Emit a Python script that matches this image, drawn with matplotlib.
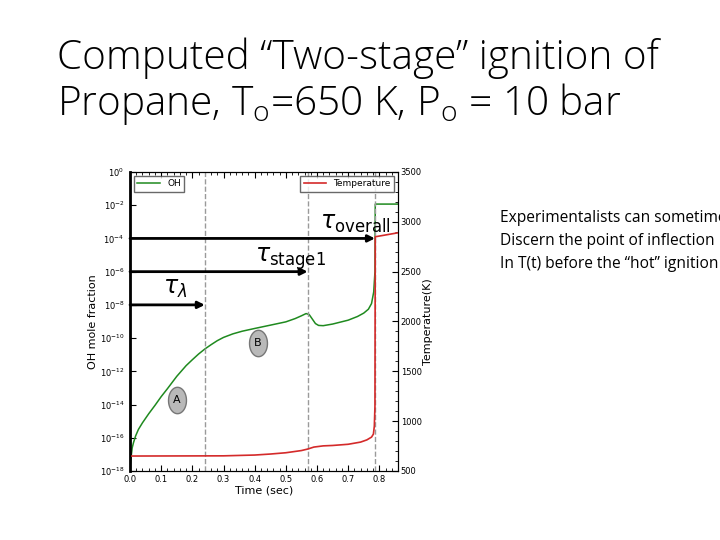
import numpy as np
import matplotlib
matplotlib.use("Agg")
import matplotlib.pyplot as plt
from matplotlib.path import Path

# OH mole fraction vs time
t_oh = [0.0, 0.003, 0.007, 0.011, 0.018, 0.027, 0.04, 0.06, 0.08, 0.1, 0.12, 0.15, 0.18,
        0.2, 0.22, 0.24, 0.26, 0.28, 0.3, 0.33, 0.36, 0.4, 0.45, 0.5, 0.53, 0.55,
        0.565, 0.575, 0.585, 0.595, 0.605, 0.62, 0.65, 0.7, 0.73, 0.75, 0.765, 0.775,
        0.782, 0.786, 0.787, 0.86]
oh = [1.6e-18, 6.0e-18, 2.5e-17, 5.0e-17, 1.3e-16, 3.2e-16, 8.0e-16, 2.8e-15, 8.9e-15,
      3.0e-14, 9.0e-14, 5.0e-13, 2.2e-12, 5.0e-12, 1.1e-11, 2.2e-11, 4.0e-11, 7.0e-11,
      1.1e-10, 1.8e-10, 2.6e-10, 3.8e-10, 6.0e-10, 9.5e-10, 1.5e-9, 2.2e-9,
      3.0e-9, 2.6e-9, 1.4e-9, 7.5e-10, 5.8e-10, 5.6e-10, 7.0e-10, 1.2e-9, 2.0e-9,
      3.2e-9, 5.5e-9, 1.2e-8, 6.0e-8, 1.0e-6, 1.17e-2, 1.17e-2]

# temperature vs time
t_T = [0.0, 0.3, 0.4, 0.45, 0.5, 0.55, 0.57, 0.59, 0.62, 0.65, 0.7, 0.74, 0.76, 0.775,
       0.781, 0.784, 0.786, 0.787, 0.86]
temp = [650, 652, 660, 670, 683, 705, 720, 740, 752, 756, 768, 790, 812, 840,
        870, 950, 1150, 2850, 2890]

# characteristic times (dashed lines) and arrow heights
t_marks = [0.24, 0.57, 0.786]
arrow_y = [1e-8, 1e-6, 1e-4]
tau_labels = [r"$\tau_{\lambda}$", r"$\tau_{\mathrm{stage1}}$", r"$\tau_{\mathrm{overall}}$"]
tau_pos = [(0.105, 1e-7), (0.40, 6e-6), (0.61, 8e-4)]

# regime markers
regions = ["A", "B"]
region_t = [0.15, 0.41]
region_oh = [2.0e-14, 5.0e-11]

plt.rcParams["font.family"] = ["DejaVu Sans"]
plt.rcParams["mathtext.fontset"] = "dejavusans"

fig = plt.figure(figsize=(7.2, 5.4), dpi=100)

fig.text(0.079, 0.892, "Computed \u201cTwo-stage\u201d ignition of",
         fontsize=29.2, family="Open Sans", weight="light", va="center", ha="left")
fig.text(0.079, 0.807, "Propane, T$_\\mathregular{o}$=650 K, P$_\\mathregular{o}$ = 10 bar",
         fontsize=29.2, family="Open Sans", weight="light", va="center", ha="left")

side = ["Experimentalists can sometimes",
        "Discern the point of inflection",
        "In T(t) before the \u201chot\u201d ignition"]
for i, s in enumerate(side):
    fig.text(0.694, 0.597 - i * 0.0426, s, fontsize=11.2, family="Open Sans",
             va="center", ha="left")

ax = fig.add_axes([0.1806, 0.1278, 0.3722, 0.5537])
ax2 = ax.twinx()

ax.semilogy(t_oh, oh, color="#1f8a1f", lw=1.1, label="OH")
ax2.plot(t_T, temp, color="#d42a2a", lw=1.2, label="Temperature")

ax.set_xlim(0, 0.86)
ax.set_ylim(1e-18, 1)
ax2.set_ylim(500, 3500)

ax.set_yticks([10.0 ** -k for k in range(0, 19, 2)])
ax.yaxis.set_minor_locator(matplotlib.ticker.NullLocator())
ax.set_xticks(np.arange(0, 0.81, 0.1))
ax.xaxis.set_minor_locator(matplotlib.ticker.MultipleLocator(0.02))
ax2.set_yticks(np.arange(500, 3501, 500))
ax2.yaxis.set_minor_locator(matplotlib.ticker.MultipleLocator(100))

ax.tick_params(which="both", direction="in", top=True, labelsize=6)
ax.tick_params(axis="x", pad=3)
ax.tick_params(axis="y", pad=4)
ax.tick_params(which="major", length=4)
ax.tick_params(which="minor", length=2)
ax2.tick_params(which="both", direction="in", labelsize=6, pad=2)
ax2.tick_params(which="major", length=4)
ax2.tick_params(which="minor", length=2)
ax.spines["left"].set_linewidth(2)

ax.set_xlabel("Time (sec)", fontsize=8, labelpad=1)
ax.set_ylabel("OH mole fraction", fontsize=8, labelpad=1)
ax2.set_ylabel("Temperature(K)", fontsize=8, labelpad=1)

for tm in t_marks:
    ax.axvline(tm, color="#9a9a9a", ls="--", lw=1)

for tm, ay in zip(t_marks, arrow_y):
    ax.annotate("", xy=(tm, ay), xytext=(0, ay),
                arrowprops=dict(arrowstyle="-|>", color="black", lw=2,
                                mutation_scale=10, shrinkA=0, shrinkB=0))

for lab, (tx, ty) in zip(tau_labels, tau_pos):
    ax.text(tx, ty, lab, fontsize=17, va="center", ha="left")

theta = np.linspace(0, 2 * np.pi, 60)
ell = Path(np.column_stack([0.68 * np.cos(theta), np.sin(theta)]))
for lab, rt, ro in zip(regions, region_t, region_oh):
    ax.plot(rt, ro, marker=ell, markersize=19, color="#b9b9b9",
            markeredgecolor="#777777", markeredgewidth=1)
    ax.text(rt, ro, lab, fontsize=8, ha="center", va="center")

ax.legend(loc="upper left", fontsize=6.5, handlelength=2.5, fancybox=False,
          edgecolor="#444444", borderaxespad=0.4)
ax2.legend(loc="upper right", fontsize=6.5, handlelength=2.5, fancybox=False,
           edgecolor="#444444", borderaxespad=0.4)

fig.savefig("out.png", dpi=100)
